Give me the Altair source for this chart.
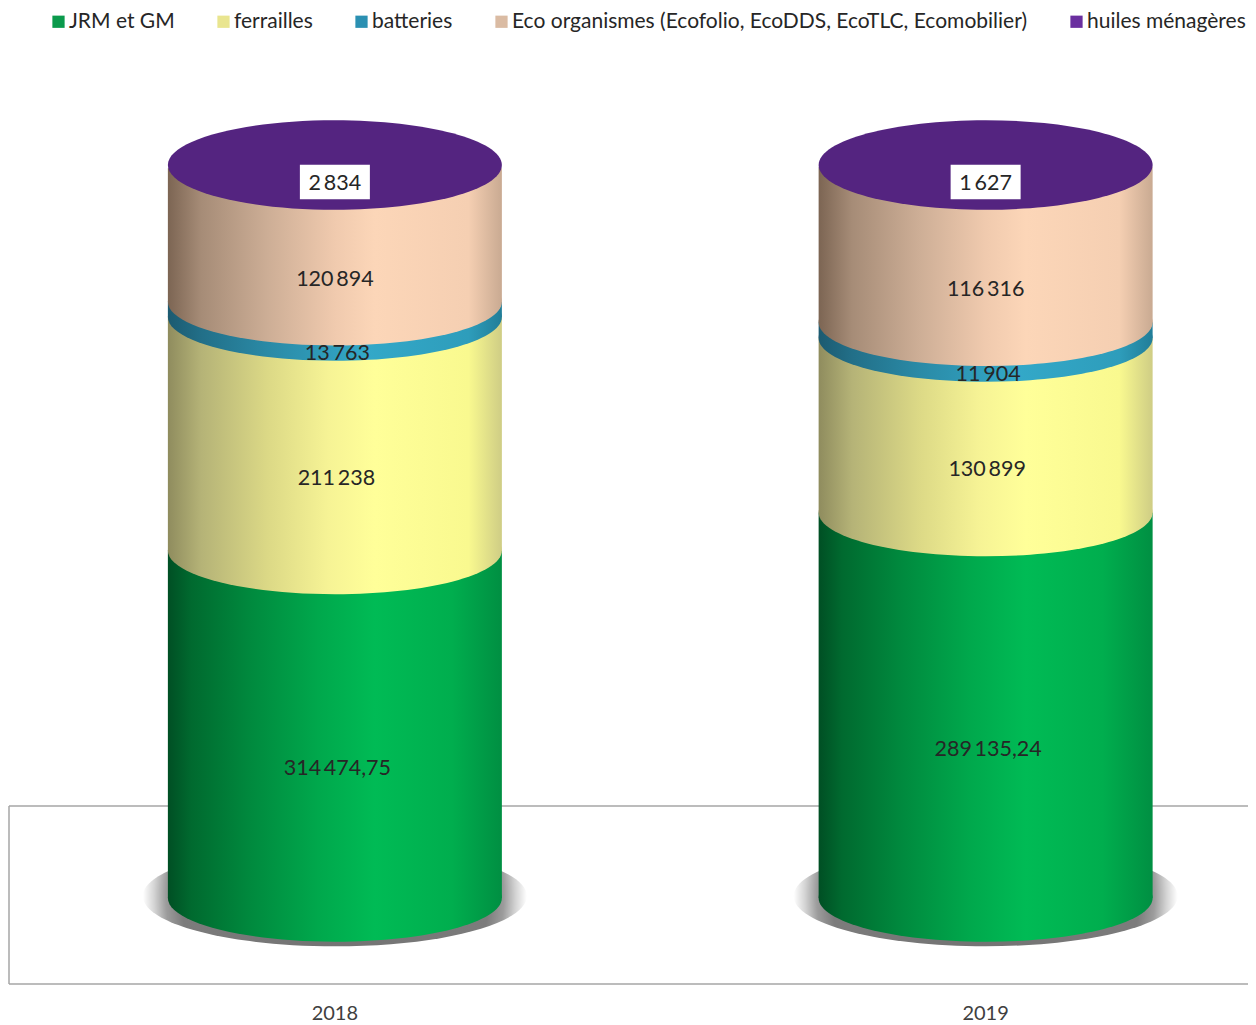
import altair as alt
import pandas as pd

years = ["2018", "2019"]
series = ["JRM et GM", "ferrailles", "batteries",
          "Eco organismes (Ecofolio, EcoDDS, EcoTLC, Ecomobilier)", "huiles ménagères"]
values_2018 = [314474.75, 211238, 13763, 120894, 2834]
values_2019 = [289135.24, 130899, 11904, 116316, 1627]
labels_2018 = ["314\u2009474,75", "211\u2009238", "13\u2009763", "120\u2009894", "2\u2009834"]
labels_2019 = ["289\u2009135,24", "130\u2009899", "11\u2009904", "116\u2009316", "1\u2009627"]
legend_colors = ["#0b9a4c", "#e9e58f", "#2b90b2", "#dabba3", "#6a2f9f"]

FONT = "Lato"
PLOT_W, PLOT_H = 1240, 976
Y_DOMAIN = [-0.1173, 1.2142]
FLOOR_BACK, FLOOR_FRONT = 0.1255, -0.1173


def grad(stops):
    return alt.LinearGradient(
        gradient="linear", x1=0, x2=1, y1=0, y2=0,
        stops=[alt.GradientStop(offset=o, color=c) for o, c in stops])


gradients = {
    series[0]: grad([(0, "#004f24"), (0.07, "#006a2f"), (0.25, "#008a3e"), (0.45, "#00a84c"),
                     (0.62, "#00bb55"), (0.85, "#00ae4e"), (1, "#008f42")]),
    series[1]: grad([(0, "#8f8c5e"), (0.1, "#b5b377"), (0.3, "#dcd986"), (0.48, "#f6f395"),
                     (0.62, "#ffff99"), (0.9, "#f9f98f"), (1, "#cfcd85")]),
    series[2]: grad([(0, "#1c5a70"), (0.1, "#226f88"), (0.3, "#2a8aa6"), (0.6, "#33a8c8"),
                     (0.9, "#2e9dbb"), (1, "#217d98")]),
    series[3]: grad([(0, "#7c6553"), (0.1, "#a68c77"), (0.3, "#cdae96"), (0.5, "#f0caae"),
                     (0.62, "#fcd6b8"), (0.9, "#f5cfb2"), (1, "#c9aa92")]),
}
TOP_COLOR = "#542480"
label_dx = {series[0]: 2.5, series[1]: 1.5, series[2]: 2.5, series[3]: 0}

rows = []
for year, vals, labs in zip(years, [values_2018, values_2019], [labels_2018, labels_2019]):
    total = sum(vals)
    acc = 0
    for s, v, l in zip(series, vals, labs):
        rows.append(dict(year=year, series=s, value=v, label=l,
                         y0=acc / total, y1=(acc + v) / total,
                         mid=(acc + v / 2) / total))
        acc += v
df = pd.DataFrame(rows)

x = alt.X("year:N", title=None,
          scale=alt.Scale(domain=years, range=[1.5, 1303], paddingInner=0, paddingOuter=0),
          axis=alt.Axis(domain=False, ticks=False, grid=False, labelAngle=0, labelFontSize=20,
                        labelFont=FONT, labelColor="#404040", labelPadding=19))
yscale = alt.Scale(domain=Y_DOMAIN, nice=False, zero=False)


def Y(f):
    return alt.Y(f, type="quantitative", scale=yscale, axis=None, title=None)


ELLIPSE = "M-1,0A1,0.262 0 1,1 1,0A1,0.262 0 1,1 -1,0Z"
TOP_ELLIPSE = "M-1,0A1,0.268 0 1,1 1,0A1,0.268 0 1,1 -1,0Z"
BOX = "M-1,-0.49H1V0.49H-1Z"
CYL_W = 334

base = alt.Chart(df)
floor = pd.DataFrame({"back": [FLOOR_BACK], "front": [FLOOR_FRONT]})
layers = []

floor_style = dict(color="#a6a6a6", strokeWidth=1.5)
layers.append(alt.Chart(floor).mark_rule(**floor_style).encode(
    y=Y("back"), x=alt.value(1), x2=alt.value(PLOT_W)))
layers.append(alt.Chart(floor).mark_rule(**floor_style).encode(
    y=Y("front"), x=alt.value(1), x2=alt.value(PLOT_W)))
layers.append(alt.Chart(floor).mark_rule(**floor_style).encode(
    y=Y("back"), y2="front", x=alt.value(1)))

shadow = alt.RadialGradient(
    gradient="radial", x1=0.5, y1=0.5, r1=0, x2=0.5, y2=0.5, r2=0.5,
    stops=[alt.GradientStop(offset=0, color="#707070"),
           alt.GradientStop(offset=0.8, color="#7c7c7c"),
           alt.GradientStop(offset=0.88, color="#9c9c9c"),
           alt.GradientStop(offset=0.94, color="#d2d2d2"),
           alt.GradientStop(offset=1, color="#ffffff")])
layers.append(base.transform_filter(alt.datum.series == series[0]).mark_point(
    shape=ELLIPSE, size=384 ** 2, filled=True, fill=shadow, opacity=1, strokeWidth=0,
    yOffset=-2).encode(x=x, y=Y("y0")))

# legend carrier, hidden behind the cylinders
layers.append(base.mark_square(size=100, opacity=1).encode(
    x=x, y=Y("mid"),
    color=alt.Color("series:N", scale=alt.Scale(domain=series, range=legend_colors),
                    legend=alt.Legend(orient="none", legendX=40, legendY=3, direction="horizontal",
                                      columns=5, title=None, columnPadding=38, symbolSize=150,
                                      symbolType="square", symbolStrokeWidth=0, labelFont=FONT,
                                      labelFontSize=21, labelColor="#262626", labelOffset=0,
                                      symbolOffset=0, labelLimit=700))))

for s in series[:4]:
    d = base.transform_filter(alt.datum.series == s)
    layers.append(d.mark_bar(size=CYL_W, fill=gradients[s], strokeWidth=0).encode(
        x=x, y=Y("y0"), y2="y1"))
    layers.append(d.mark_point(shape=ELLIPSE, size=CYL_W ** 2, filled=True, fill=gradients[s],
                               opacity=1, strokeWidth=0).encode(x=x, y=Y("y0")))

top = base.transform_filter(alt.datum.series == series[4])
layers.append(top.mark_point(shape=TOP_ELLIPSE, size=CYL_W ** 2, filled=True, fill=TOP_COLOR,
                             opacity=1, strokeWidth=0).encode(x=x, y=Y("y1")))
layers.append(top.mark_point(shape=BOX, size=70 ** 2, filled=True, fill="white", opacity=1,
                             strokeWidth=0, yOffset=17).encode(x=x, y=Y("y1")))
layers.append(top.mark_text(font=FONT, fontSize=21.5, color="#262626", dx=0, dy=19).encode(
    x=x, y=Y("y1"), text="label:N"))

for s in series[:4]:
    layers.append(base.transform_filter(alt.datum.series == s).mark_text(
        font=FONT, fontSize=21.5, color="#262626", dx=label_dx[s], dy=45).encode(
        x=x, y=Y("mid"), text="label:N"))

chart = alt.layer(*layers).properties(
    width=PLOT_W, height=PLOT_H, background="white",
    autosize=alt.AutoSizeParams(type="none"),
    padding={"left": 0, "top": 0, "right": 0, "bottom": 41},
).configure_view(stroke=None)
chart.save("out.html", embed_options={"renderer": "svg", "actions": False})
